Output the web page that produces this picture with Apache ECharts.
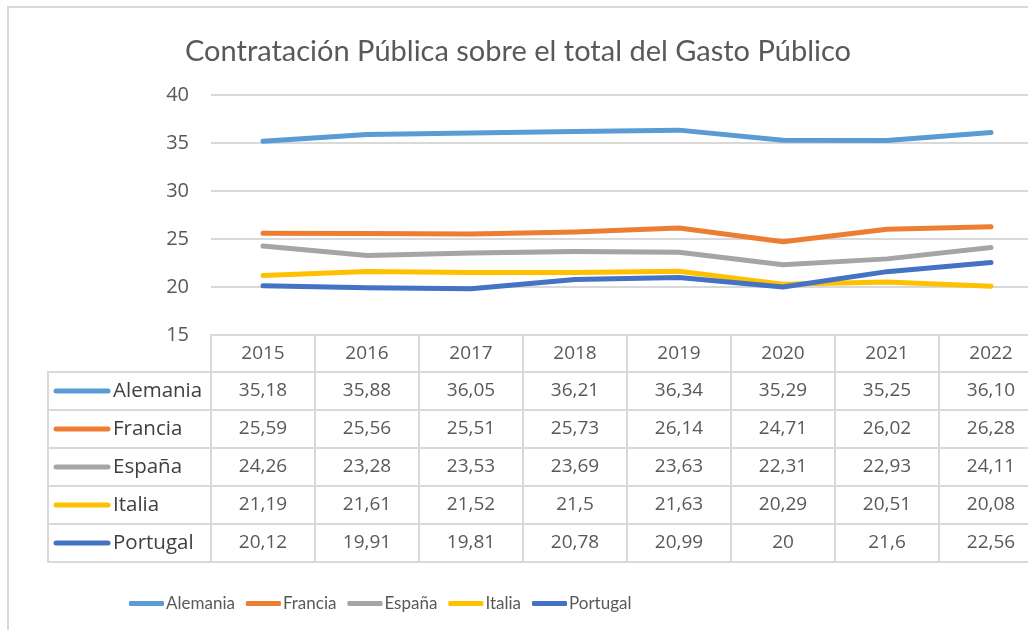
<!DOCTYPE html>
<html>
<head>
<meta charset="utf-8">
<script src="https://cdn.jsdelivr.net/npm/echarts@6/dist/echarts.min.js"></script>
<style>
  html, body { margin: 0; padding: 0; overflow: hidden; background: #fff; }
  #chart { width: 1060px; height: 630px; }
</style>
</head>
<body>
<div id="chart"></div>
<script>
// data, as printed in the data table of the original chart
const years = ['2015', '2016', '2017', '2018', '2019', '2020', '2021', '2022']
const countries = ['Alemania', 'Francia', 'España', 'Italia', 'Portugal']
const alemania = ['35,18', '35,88', '36,05', '36,21', '36,34', '35,29', '35,25', '36,10']
const francia = ['25,59', '25,56', '25,51', '25,73', '26,14', '24,71', '26,02', '26,28']
const espana = ['24,26', '23,28', '23,53', '23,69', '23,63', '22,31', '22,93', '24,11']
const italia = ['21,19', '21,61', '21,52', '21,5', '21,63', '20,29', '20,51', '20,08']
const portugal = ['20,12', '19,91', '19,81', '20,78', '20,99', '20', '21,6', '22,56']
const yTicks = [15, 20, 25, 30, 35, 40]

const rows = [alemania, francia, espana, italia, portugal]
const colors = ['#5B9BD5', '#ED7D31', '#A5A5A5', '#FFC000', '#4472C4']
const toNum = (s) => parseFloat(s.replace(',', '.'))

const gridCol = '#d9d9d9'
const txtCol = '#595959'
const tableFont = 'Open Sans'

const chart = echarts.init(document.getElementById('chart'))

// row axes below the plot make the data table
const rowH = 38
const headH = 37
const xAxes = [{
  type: 'category',
  data: years,
  position: 'bottom',
  boundaryGap: true,
  axisLine: { lineStyle: { color: gridCol, width: 2 } },
  axisTick: { show: true, interval: 0, length: headH, lineStyle: { color: gridCol, width: 2 } },
  axisLabel: { interval: 0, margin: 9, fontSize: 19, color: txtCol, fontFamily: tableFont }
}]
rows.forEach((r, i) => {
  xAxes.push({
    type: 'category',
    data: r,
    position: 'bottom',
    offset: headH + rowH * i,
    boundaryGap: true,
    axisLine: { lineStyle: { color: gridCol, width: 2 } },
    axisTick: { show: true, interval: 0, length: rowH, lineStyle: { color: gridCol, width: 2 } },
    axisLabel: { interval: 0, margin: 9, fontSize: 19, color: txtCol, fontFamily: tableFont }
  })
})
xAxes.push({
  type: 'category',
  data: years,
  position: 'bottom',
  offset: headH + rowH * rows.length,
  axisLine: { lineStyle: { color: gridCol, width: 2 } },
  axisTick: { show: false },
  axisLabel: { show: false }
})

// left column of the table: keys + names
const tTop = 335 + headH
const leftX = 48
const plotL = 211
const tableGraphics = [{
  type: 'rect',
  shape: { x: leftX, y: tTop, width: plotL - leftX, height: rowH * rows.length },
  style: { fill: 'none', stroke: gridCol, lineWidth: 2 }
}]
countries.forEach((c, i) => {
  const cy = tTop + rowH * i + rowH / 2
  if (i > 0) {
    tableGraphics.push({
      type: 'line',
      shape: { x1: leftX, y1: tTop + rowH * i, x2: plotL, y2: tTop + rowH * i },
      style: { stroke: gridCol, lineWidth: 2 }
    })
  }
  tableGraphics.push({
    type: 'line',
    shape: { x1: 56, y1: cy, x2: 108, y2: cy },
    style: { stroke: colors[i], lineWidth: 5, lineCap: 'round' }
  })
  tableGraphics.push({
    type: 'text',
    x: 113,
    y: cy,
    style: { text: c, fill: '#404040', font: '20.5px "' + tableFont + '"', textVerticalAlign: 'middle' }
  })
})

const option = {
  animation: false,
  title: {
    text: 'Contratación Pública sobre el total del Gasto Público',
    left: 180,
    top: 32,
    textStyle: { fontFamily: 'Lato', fontWeight: 'normal', fontSize: 29, color: txtCol }
  },
  legend: {
    data: countries,
    left: 124,
    top: 590,
    icon: 'roundRect',
    itemWidth: 35,
    itemHeight: 5,
    itemGap: 11,
    textStyle: { fontFamily: 'Lato', fontSize: 17, color: txtCol, padding: [0, 0, 0, -3] }
  },
  grid: { left: plotL, top: 95, width: 832, height: 240 },
  xAxis: xAxes,
  yAxis: {
    type: 'value',
    min: yTicks[0],
    max: yTicks[yTicks.length - 1],
    interval: 5,
    axisLine: { show: false },
    axisTick: { show: false },
    axisLabel: { margin: 22, fontSize: 20, color: txtCol, fontFamily: tableFont },
    splitLine: { lineStyle: { color: gridCol, width: 2 } }
  },
  series: countries.map((c, i) => ({
    name: c,
    type: 'line',
    xAxisIndex: 0,
    data: rows[i].map(toNum),
    showSymbol: false,
    symbol: 'none',
    color: colors[i],
    lineStyle: { width: 5, cap: 'round', join: 'round' }
  })),
  graphic: [{
    type: 'rect',
    z: -10,
    shape: { x: 8, y: 7, width: 1200, height: 800 },
    style: { fill: 'none', stroke: gridCol, lineWidth: 2 }
  }].concat(tableGraphics)
}
chart.setOption(option)
</script>
</body>
</html>
